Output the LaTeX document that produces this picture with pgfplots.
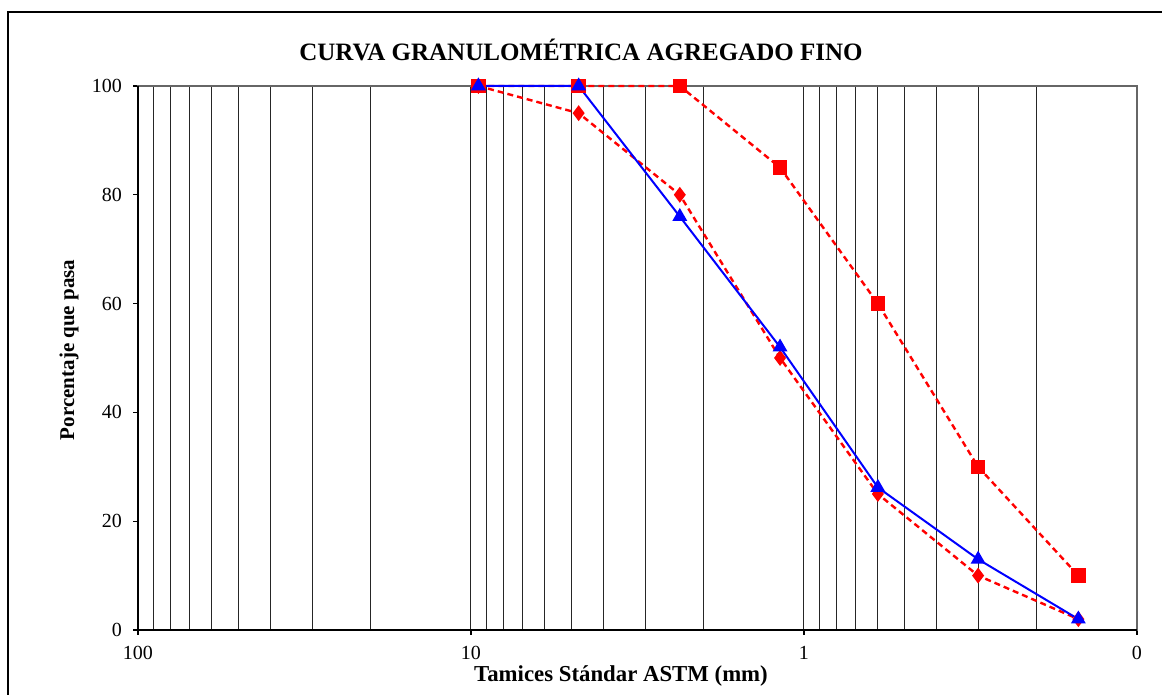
\documentclass[border=0pt]{standalone}
\usepackage{pgfplots}
\pgfplotsset{compat=1.18}
\usepackage{fontspec}
\setmainfont{Liberation Serif}

% Sieve sizes (mm) and percent passing
\pgfplotstableread{
size  pass
9.5   100
4.75  100
2.36  76
1.18  52
0.6   26.2
0.3   13
0.15  2
}\muestra
\pgfplotstableread{
size  pass
9.5   100
4.75  100
2.36  100
1.18  85
0.6   60
0.3   30
0.15  10
}\limsup
\pgfplotstableread{
size  pass
9.5   100
4.75  95
2.36  80
1.18  50
0.6   25
0.3   10
0.15  2
}\liminf

\begin{document}
\begin{tikzpicture}
\begin{axis}[
  at={(0,0)}, anchor=south west,
  scale only axis, width=499.5pt, height=272pt,
  xmode=log, x dir=reverse,
  xmin=0.1, xmax=100, ymin=0, ymax=100,
  xtick={0.1,1,10,100}, xticklabels={0,1,10,100},
  minor xtick={0.2,0.3,0.4,0.5,0.6,0.7,0.8,0.9,2,3,4,5,6,7,8,9,20,30,40,50,60,70,80,90},
  ytick={0,20,40,60,80,100},
  xtick pos=bottom, ytick pos=left,
  tick align=outside,
  major tick length=2.5pt, minor tick length=0pt,
  xmajorgrids, xminorgrids,
  major grid style={black!85, line width=0.5pt},
  minor grid style={black!85, line width=0.5pt},
  axis line style={draw=black!60, line width=0.6pt},
  tick style={black, line width=0.6pt},
  ticklabel style={font=\fontsize{10}{12}\selectfont},
  xticklabel style={yshift=-2pt},
  yticklabel style={xshift=-2pt},
  /pgf/number format/assume math mode=true,
  clip=false,
]
\addplot[red, line width=1.2pt, dash pattern=on 3pt off 2pt,
  mark=square*, mark size=3pt, mark options={solid}] table[x=size,y=pass] {\limsup};
\addplot[red, line width=1.2pt, dash pattern=on 3pt off 2pt,
  mark=diamond*, mark size=3pt, mark options={solid}] table[x=size,y=pass] {\liminf};
\addplot[blue, line width=1pt,
  mark=triangle*, mark size=3.3pt] table[x=size,y=pass] {\muestra};

% heavier value and category axes
\draw[black, line width=1.1pt] (axis description cs:0,1) -- (axis description cs:0,0) -- (axis description cs:1,0);

\node[font=\bfseries\fontsize{12.5}{14}\selectfont] at (axis description cs:0.4434,1.066)
  {CURVA GRANULOMÉTRICA AGREGADO FINO};
\node[font=\bfseries\fontsize{11.4}{13}\selectfont] at (axis description cs:0.4835,-0.0846)
  {Tamices Stándar ASTM (mm)};
\node[font=\bfseries\fontsize{10.5}{13}\selectfont, rotate=90] at (axis description cs:-0.069,0.515)
  {Porcentaje que pasa};
\end{axis}
% chart frame
\draw[black, line width=0.6pt] (-65pt,-60pt) -- (-65pt,309pt) -- (540pt,309pt);
\pgfresetboundingbox
\path[use as bounding box] (-69pt,-32.5pt) rectangle (512pt,315pt);
\end{tikzpicture}
\end{document}
